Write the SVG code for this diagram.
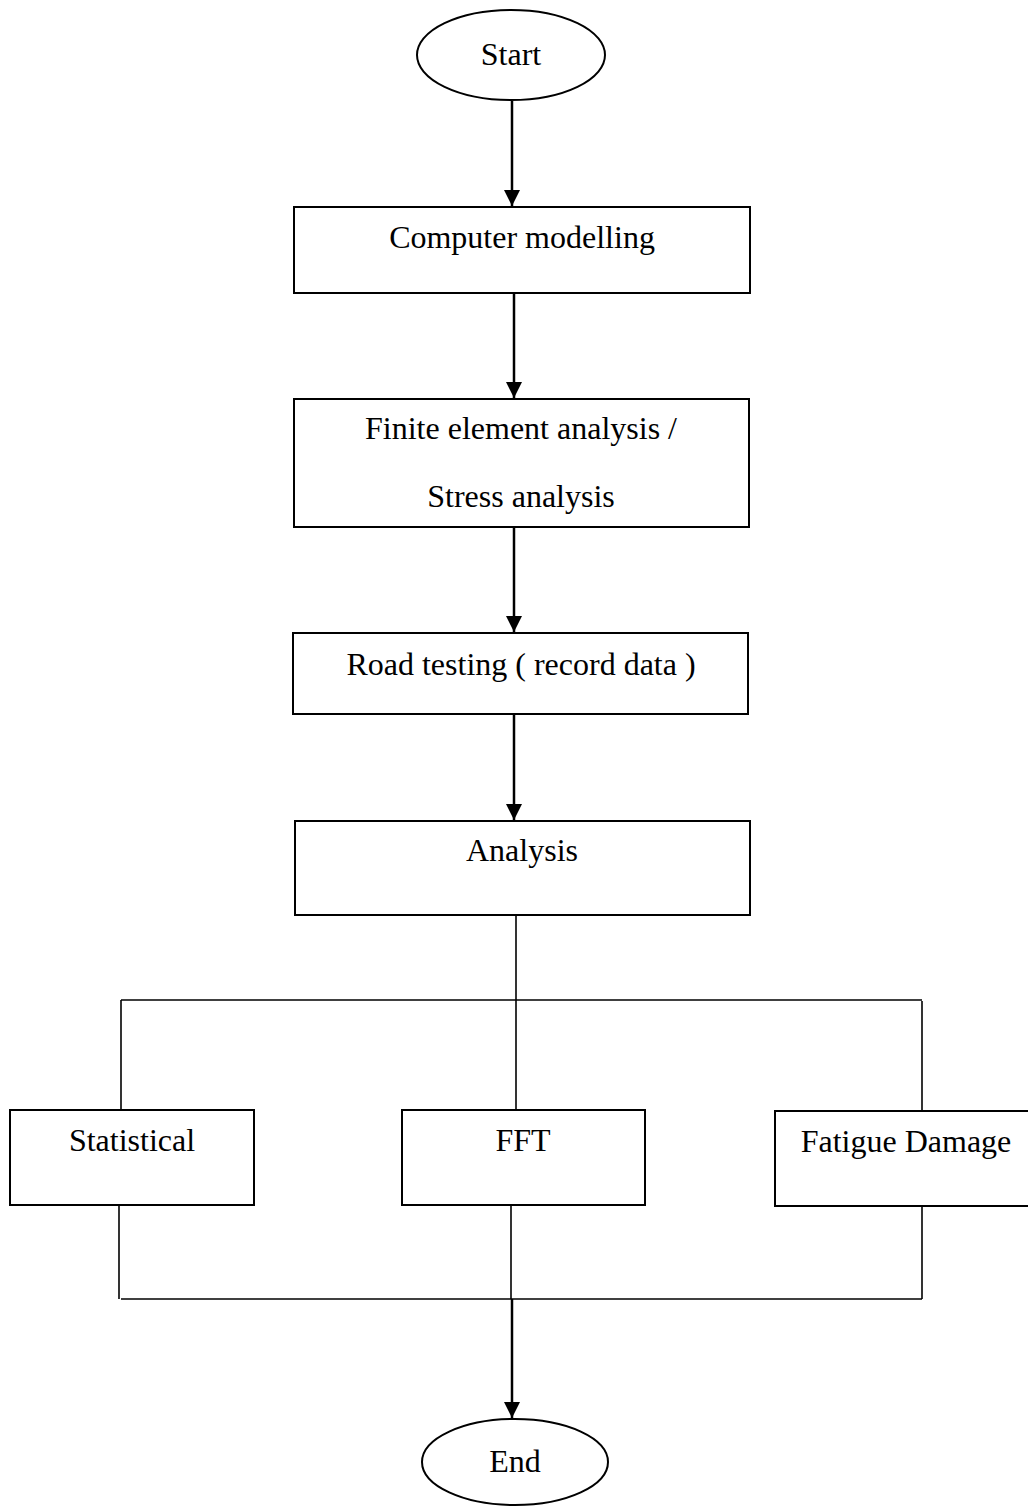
<svg xmlns="http://www.w3.org/2000/svg" width="1028" height="1508" viewBox="0 0 1028 1508">
<style>
.n{fill:#fff;stroke:#000;stroke-width:2}
.t{font-family:"Liberation Serif","Times New Roman",serif;font-size:32px;fill:#000;text-anchor:middle}
.c{fill:none;stroke:#000;stroke-width:2.5}
.b{fill:none;stroke:#000;stroke-width:1.6}
</style>
<defs>
<marker id="ah" viewBox="0 0 10 10" refX="10" refY="5" markerWidth="6.5" markerHeight="6.5" markerUnits="strokeWidth" orient="auto">
<path d="M0,0 L10,5 L0,10 z" fill="#000"/>
</marker>
</defs>
<rect width="1028" height="1508" fill="#fff"/>
<g id="connectors">
<line class="c" x1="512" y1="101" x2="512" y2="206" marker-end="url(#ah)"/>
<line class="c" x1="514" y1="293" x2="514" y2="398" marker-end="url(#ah)"/>
<line class="c" x1="514" y1="527" x2="514" y2="632" marker-end="url(#ah)"/>
<line class="c" x1="514" y1="714" x2="514" y2="820" marker-end="url(#ah)"/>
<line class="b" x1="516" y1="915" x2="516" y2="1110"/>
<line class="b" x1="121" y1="1000" x2="922" y2="1000"/>
<line class="b" x1="121" y1="1000" x2="121" y2="1110"/>
<line class="b" x1="922" y1="1001" x2="922" y2="1111"/>
<line class="b" x1="119" y1="1205" x2="119" y2="1299"/>
<line class="b" x1="922" y1="1206" x2="922" y2="1299"/>
<line class="b" x1="511" y1="1205" x2="511" y2="1299"/>
<line class="b" x1="121" y1="1299" x2="922" y2="1299"/>
<line class="c" x1="512" y1="1299" x2="512" y2="1418" marker-end="url(#ah)"/>
</g>
<g id="start">
<ellipse class="n" cx="511" cy="55" rx="94" ry="45"/>
<text class="t" x="511" y="65">Start</text>
</g>
<g id="computer-modelling">
<rect class="n" x="294" y="207" width="456" height="86"/>
<text class="t" x="522" y="248">Computer modelling</text>
</g>
<g id="fea">
<rect class="n" x="294" y="399" width="455" height="128"/>
<text class="t" x="521" y="439">Finite element analysis /</text>
<text class="t" x="521" y="507">Stress analysis</text>
</g>
<g id="road-testing">
<rect class="n" x="293" y="633" width="455" height="81"/>
<text class="t" x="521" y="675">Road testing ( record data )</text>
</g>
<g id="analysis">
<rect class="n" x="295" y="821" width="455" height="94"/>
<text class="t" x="522" y="861">Analysis</text>
</g>
<g id="statistical">
<rect class="n" x="10" y="1110" width="244" height="95"/>
<text class="t" x="132" y="1151">Statistical</text>
</g>
<g id="fft">
<rect class="n" x="402" y="1110" width="243" height="95"/>
<text class="t" x="523" y="1151">FFT</text>
</g>
<g id="fatigue-damage">
<rect class="n" x="775" y="1111" width="260" height="95"/>
<text class="t" x="906" y="1152">Fatigue Damage</text>
</g>
<g id="end">
<ellipse class="n" cx="515" cy="1462" rx="93" ry="43"/>
<text class="t" x="515" y="1472">End</text>
</g>
</svg>
